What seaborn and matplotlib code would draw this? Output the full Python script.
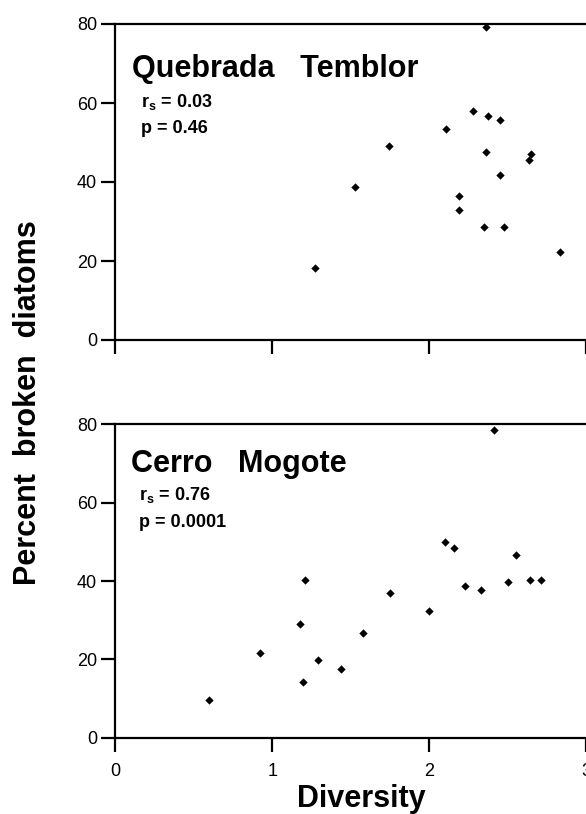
import numpy as np
import pandas as pd
import seaborn as sns
import matplotlib.pyplot as plt

# Quebrada Temblor
qt_diversity = [2.36, 2.276, 2.376, 2.45, 2.106, 1.741, 2.36, 2.645, 2.633,
                2.448, 1.527, 2.191, 2.191, 2.35, 2.476, 2.834, 1.274]
qt_broken = [79.2, 57.9, 56.8, 55.7, 53.5, 49.0, 47.5, 47.1, 45.6,
             41.7, 38.7, 36.5, 32.9, 28.5, 28.5, 22.3, 18.3]

# Cerro Mogote
cm_diversity = [2.412, 2.10, 2.159, 2.552, 1.208, 2.50, 2.639, 2.711, 2.227,
                2.329, 1.747, 2.0, 1.178, 1.577, 0.924, 1.29, 1.437, 1.193, 0.599]
cm_broken = [78.6, 50.0, 48.5, 46.6, 40.3, 39.8, 40.3, 40.3, 38.6,
             37.6, 36.9, 32.3, 28.9, 26.6, 21.5, 19.8, 17.6, 14.1, 9.5]

sites = ["Quebrada   Temblor", "Cerro   Mogote"]
stats = [(r"$\mathbf{r}_\mathbf{s}$ = 0.03", "p = 0.46"),
         (r"$\mathbf{r}_\mathbf{s}$ = 0.76", "p = 0.0001")]
y_ticks = [0, 20, 40, 60, 80]
x_ticks = [0, 1, 2, 3]

sns.set_style("ticks")
plt.rcParams["font.family"] = ["Liberation Sans", "DejaVu Sans"]
plt.rcParams["mathtext.fontset"] = "custom"
plt.rcParams["mathtext.rm"] = "Liberation Sans"
plt.rcParams["mathtext.bf"] = "Liberation Sans:bold"
plt.rcParams["text.color"] = "black"
plt.rcParams["axes.labelcolor"] = "black"

W, H = 586, 814
fig = plt.figure(figsize=(W / 100, H / 100), dpi=100)

def px_box(left, top, right, bottom):
    return [left / W, 1 - bottom / H, (right - left) / W, (bottom - top) / H]

ax_top = fig.add_axes(px_box(115.3, 24, 586.3, 340))
ax_bot = fig.add_axes(px_box(115.3, 424.3, 586.3, 737.7))

panels = [
    (ax_top, pd.DataFrame({"diversity": qt_diversity, "broken": qt_broken}),
     (0.106, 66.6), (0.164, 59.0), (0.164, 52.4)),
    (ax_bot, pd.DataFrame({"diversity": cm_diversity, "broken": cm_broken}),
     (0.100, 67.9), (0.152, 60.6), (0.152, 53.8)),
]

for i, (ax, df, title_pos, rs_pos, p_pos) in enumerate(panels):
    sns.scatterplot(data=df, x="diversity", y="broken", ax=ax, marker="D",
                    s=18, color="black", edgecolor="black", linewidth=0,
                    clip_on=False, zorder=3)
    ax.set_xlim(0, 3)
    ax.set_ylim(0, 80)
    ax.set_xticks(x_ticks)
    ax.set_yticks(y_ticks)
    ax.set_xlabel("")
    ax.set_ylabel("")
    for side in ["left", "bottom", "top"]:
        ax.spines[side].set_linewidth(1.6)
        ax.spines[side].set_color("black")
    ax.spines["right"].set_visible(False)
    ax.tick_params(axis="both", direction="out", length=10, width=1.6,
                   labelsize=13, colors="black", pad=3)
    ax.text(*title_pos, sites[i], fontsize=22, fontweight="bold",
            va="baseline", ha="left", color="black")
    ax.text(*rs_pos, stats[i][0], fontsize=13, fontweight="bold",
            va="baseline", ha="left", color="black")
    ax.text(*p_pos, stats[i][1], fontsize=13, fontweight="bold",
            va="baseline", ha="left", color="black")

ax_top.tick_params(axis="x", labelbottom=False)
ax_bot.tick_params(axis="x", pad=8)

fig.text(361 / W, 1 - 807 / H, "Diversity", fontsize=22, fontweight="bold",
         ha="center", va="baseline", color="black")
fig.text(28 / W, 1 - 403 / H, "Percent  broken  diatoms", fontsize=22,
         fontweight="bold", rotation=90, ha="center", va="center", color="black")

fig.savefig("out.png", dpi=100)
